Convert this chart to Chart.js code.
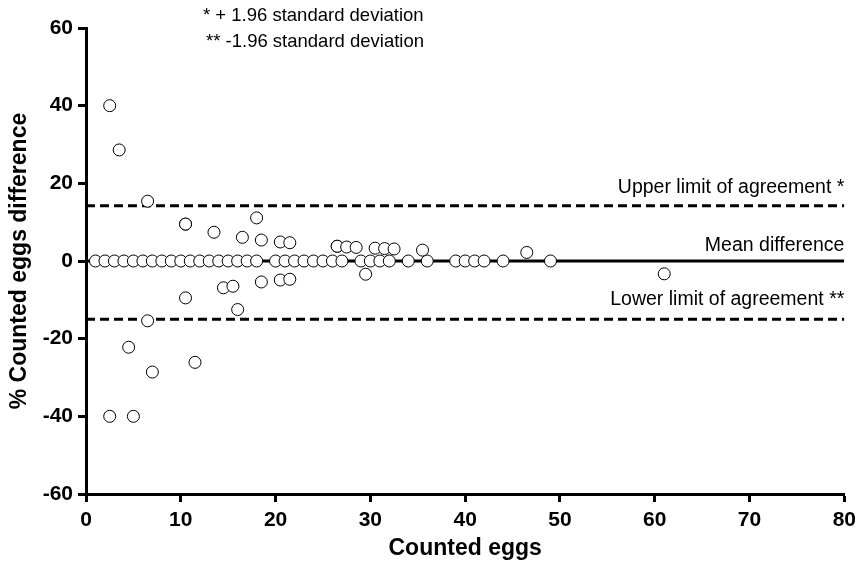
<!DOCTYPE html>
<html>
<head>
<meta charset="utf-8">
<script src="https://cdn.jsdelivr.net/npm/chart.js@4/dist/chart.umd.min.js"></script>
<style>
  html, body { margin: 0; padding: 0; background: #fff; }
  #wrap { width: 862px; height: 569px; position: relative; }
</style>
</head>
<body>
<div id="wrap"><canvas id="blandAltman"></canvas></div>
<script>
// pairs that agreed exactly (0 % difference)
const zeroEggs = [1, 2, 3, 4, 5, 6, 7, 8, 9, 10, 11, 12, 13, 14, 15, 16, 17, 18,
  20, 21, 22, 23, 24, 25, 26, 27, 29, 30, 31, 32, 34, 36, 39, 40, 41, 42, 44, 49];
// pairs with a difference
const diffEggs = [2.5, 3.5, 6.5, 10.5, 10.5, 13.5, 16.5, 18, 18.5, 20.5, 21.5, 26.5, 26.5,
  27.5, 28.5, 30.5, 31.5, 32.5, 35.5, 46.5,
  2.5, 5, 4.5, 7, 6.5, 10.5, 11.5, 14.5, 15.5, 16, 18.5, 20.5, 21.5, 29.5, 61];
const diffPct = [40, 28.6, 15.4, 9.5, 9.5, 7.4, 6.1, 11.1, 5.4, 4.9, 4.7, 3.8, 3.8,
  3.6, 3.5, 3.3, 3.2, 3.1, 2.8, 2.2,
  -40, -40, -22.2, -28.6, -15.4, -9.5, -26.1, -6.9, -6.5, -12.5, -5.4, -4.9, -4.7, -3.4, -3.3];

const meanDiff = 0;
const upperLimit = 14.2;
const lowerLimit = -15.0;
const xRange = [0, 80];
const font = '"Liberation Sans", Arial, sans-serif';

const points = zeroEggs.map(x => ({ x: x, y: 0 }))
  .concat(diffEggs.map((x, i) => ({ x: x, y: diffPct[i] })));

function hline(y, dash) {
  return {
    type: 'line',
    data: [{ x: xRange[0], y: y }, { x: xRange[1], y: y }],
    borderColor: '#000',
    borderWidth: 3,
    borderDash: dash,
    pointRadius: 0,
    order: 2
  };
}

const labelsPlugin = {
  id: 'labels',
  afterDraw(chart) {
    const ctx = chart.ctx;
    const ys = chart.scales.y;
    const right = chart.chartArea.right;
    ctx.save();
    ctx.fillStyle = '#000';
    ctx.textBaseline = 'middle';
    ctx.font = '19.5px ' + font;
    ctx.textAlign = 'right';
    ctx.fillText('Upper limit of agreement *', right, ys.getPixelForValue(upperLimit) - 18);
    ctx.fillText('Mean difference', right, ys.getPixelForValue(meanDiff) - 15);
    ctx.fillText('Lower limit of agreement **', right, ys.getPixelForValue(lowerLimit) - 20);
    ctx.textAlign = 'left';
    ctx.font = '18.5px ' + font;
    ctx.fillText('* + 1.96 standard deviation', 203, 16);
    ctx.fillText('** -1.96 standard deviation', 206, 42);
    ctx.restore();
  }
};

new Chart(document.getElementById('blandAltman'), {
  type: 'scatter',
  data: {
    datasets: [
      {
        data: points,
        backgroundColor: '#fff',
        borderColor: '#000',
        borderWidth: 1,
        pointRadius: 6,
        order: 0
      },
      hline(meanDiff, []),
      hline(upperLimit, [9, 5]),
      hline(lowerLimit, [9, 5])
    ]
  },
  options: {
    responsive: true,
    maintainAspectRatio: false,
    animation: false,
    layout: { padding: { top: 28, right: 15, bottom: 0, left: 0 } },
    plugins: { legend: { display: false }, tooltip: { enabled: false } },
    scales: {
      x: {
        type: 'linear',
        min: 0,
        max: 80,
        afterFit: s => { s.height = 75; },
        ticks: { stepSize: 10, color: '#000', padding: 6, font: { family: font, size: 21, weight: 'bold' } },
        grid: { drawOnChartArea: false, tickLength: 8, tickWidth: 3, tickColor: '#000' },
        border: { width: 3, color: '#000' },
        title: { display: true, text: 'Counted eggs', color: '#000', padding: { top: 0, bottom: 7 },
          font: { family: font, size: 23, weight: 'bold' } }
      },
      y: {
        min: -60,
        max: 60,
        afterFit: s => { s.width = 86; },
        ticks: { stepSize: 20, color: '#000', padding: 5, font: { family: font, size: 21, weight: 'bold' } },
        grid: { drawOnChartArea: false, tickLength: 8, tickWidth: 3, tickColor: '#000' },
        border: { width: 3, color: '#000' },
        title: { display: true, text: '% Counted eggs difference', color: '#000', padding: { top: 6, bottom: 0 },
          font: { family: font, size: 23, weight: 'bold' } }
      }
    }
  },
  plugins: [labelsPlugin]
});
</script>
</body>
</html>
